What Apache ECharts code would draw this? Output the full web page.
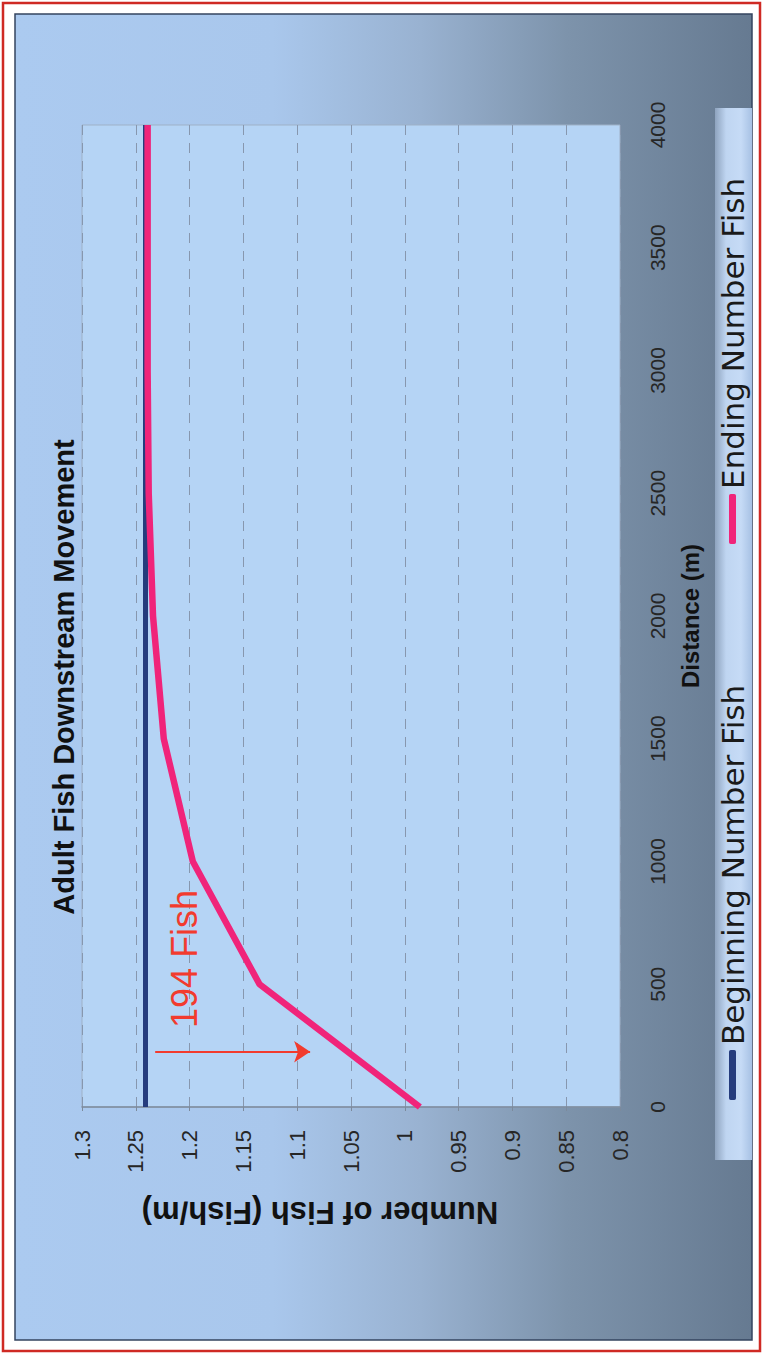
<!DOCTYPE html>
<html>
<head>
<meta charset="utf-8">
<title>Adult Fish Downstream Movement</title>
<script src="https://cdn.jsdelivr.net/npm/echarts@6/dist/echarts.min.js"></script>
<style>
  html, body { margin: 0; padding: 0; width: 764px; height: 1354px; overflow: hidden; background: #ffffff; }
  /* The chart is laid out landscape and turned a quarter turn counter-clockwise onto the portrait page. */
  #chart {
    position: absolute; left: 0; top: 0;
    width: 1354px; height: 764px;
    transform-origin: 0 0;
    transform: translate(0, 1354px) rotate(-90deg);
  }
</style>
</head>
<body>
<div id="chart"></div>
<script>
// Distance downstream (m) and fish density (fish per metre)
const distance = [0, 500, 1000, 1500, 2000, 2500, 3000, 3500, 4000];
const beginningFish = [1.241, 1.241, 1.241, 1.241, 1.241, 1.241, 1.241, 1.241, 1.241];
const endingFish = [0.986, 1.135, 1.197, 1.224, 1.234, 1.238, 1.239, 1.239, 1.239];

const seriesNames = ['Beginning Number Fish', 'Ending Number Fish'];
const yTickLabels = ['0.8', '0.85', '0.9', '0.95', '1', '1.05', '1.1', '1.15', '1.2', '1.25', '1.3'];
const xTickLabels = ['0', '500', '1000', '1500', '2000', '2500', '3000', '3500', '4000'];

// Annotation: arrow showing the fish lost, and its caption
const arrowDistance = 225;
const arrowFromTo = [1.232, 1.088];
const noteText = '194 Fish';
const notePos = [320, 1.205];

const FONT = '"Liberation Sans", Arial, Helvetica, sans-serif';
const LEGEND_FONT = '"DejaVu Sans", "Liberation Sans", Arial, sans-serif';

const chart = echarts.init(document.getElementById('chart'), null, { renderer: 'svg' });

const pairs = (xs, ys) => xs.map((x, i) => [x, ys[i]]);

chart.setOption({
  animation: false,
  backgroundColor: 'transparent',
  textStyle: { fontFamily: FONT },
  graphic: [
    // outer red frame
    { type: 'rect', z: -10, silent: true,
      shape: { x: 3, y: 3, width: 1348, height: 757 },
      style: { fill: '#ffffff', stroke: '#cf2a24', lineWidth: 2.5 } },
    // slide panel with blue-to-slate shading
    { type: 'rect', z: -9, silent: true,
      shape: { x: 14, y: 15, width: 1326, height: 737 },
      style: {
        fill: new echarts.graphic.LinearGradient(0, 0, 0, 1, [
          { offset: 0, color: '#abcaf0' },
          { offset: 0.35, color: '#a9c7ec' },
          { offset: 0.55, color: '#99b2d1' },
          { offset: 0.75, color: '#7d93ab' },
          { offset: 1, color: '#667a91' }
        ]),
        stroke: '#34445f', lineWidth: 1.5
      } },
    // legend strip
    { type: 'rect', z: -8, silent: true,
      shape: { x: 194, y: 715, width: 1052, height: 37 },
      style: {
        fill: new echarts.graphic.LinearGradient(0, 0, 0, 1, [
          { offset: 0, color: '#8ea3be' },
          { offset: 0.3, color: '#bfd5f1' },
          { offset: 0.7, color: '#c6dbf6' },
          { offset: 1, color: '#a7c1e4' }
        ])
      } }
  ],
  title: {
    text: 'Adult Fish Downstream Movement',
    left: 'center',
    top: 44,
    padding: [5, 5, 5, 19],
    textStyle: { fontFamily: FONT, fontSize: 29, fontWeight: 'bold', color: '#111111' }
  },
  legend: {
    data: seriesNames,
    left: 254,
    top: 717,
    padding: 0,
    itemWidth: 50,
    itemHeight: 7,
    itemGap: 141,
    icon: 'roundRect',
    textStyle: { fontFamily: LEGEND_FONT, fontSize: 31, color: '#1a1a1a' }
  },
  grid: {
    left: 247, right: 125, top: 82, bottom: 144,
    show: true,
    backgroundColor: '#b5d4f5',
    borderColor: '#9fb1c7',
    borderWidth: 1
  },
  xAxis: {
    type: 'value',
    min: 0, max: 4000, interval: 500,
    name: 'Distance (m)',
    nameLocation: 'middle',
    nameGap: 58,
    nameTextStyle: { fontFamily: FONT, fontSize: 24, fontWeight: 'bold', color: '#111111', padding: [0, 0, 0, 0] },
    axisLine: { show: false },
    axisTick: { show: false },
    splitLine: { show: false },
    axisLabel: {
      margin: 27,
      fontFamily: FONT, fontSize: 21, color: '#262626',
      formatter: v => xTickLabels[Math.round(v / 500)]
    }
  },
  yAxis: {
    type: 'value',
    min: 0.8, max: 1.3, interval: 0.05,
    name: 'Number of Fish (Fish/m)',
    nameLocation: 'middle',
    nameRotate: 90,
    nameGap: 90,
    nameTextStyle: { fontFamily: FONT, fontSize: 31, fontWeight: 'bold', color: '#111111', padding: [0, 0, 0, 62] },
    axisLine: { show: true, lineStyle: { color: '#7c8a9c', width: 1.5 } },
    axisTick: { show: true, length: 4, lineStyle: { color: '#7c8a9c' } },
    splitLine: { show: true, lineStyle: { color: '#8797ae', width: 1, type: [10, 8] } },
    axisLabel: {
      margin: 23,
      fontFamily: FONT, fontSize: 22, color: '#262626',
      formatter: v => yTickLabels[Math.round((v - 0.8) / 0.05)]
    }
  },
  series: [
    {
      name: seriesNames[0],
      type: 'line',
      data: pairs(distance, beginningFish),
      showSymbol: false,
      color: '#253c7d',
      lineStyle: { color: '#253c7d', width: 5 },
      z: 2
    },
    {
      name: seriesNames[1],
      type: 'line',
      data: pairs(distance, endingFish),
      showSymbol: false,
      color: '#f0247a',
      lineStyle: { color: '#f0247a', width: 6.5 },
      z: 3,
      markLine: {
        silent: true,
        symbol: ['none', 'arrow'],
        symbolSize: 16,
        lineStyle: { color: '#f23b2e', width: 2, type: 'solid' },
        label: { show: false },
        data: [[
          { coord: [arrowDistance, arrowFromTo[0]] },
          { coord: [arrowDistance, arrowFromTo[1]] }
        ]]
      },
      markPoint: {
        silent: true,
        symbol: 'circle',
        symbolSize: 1,
        itemStyle: { color: 'transparent' },
        label: {
          show: true,
          position: 'right',
          distance: 0,
          formatter: noteText,
          fontFamily: FONT,
          fontSize: 36,
          color: '#f23b2e'
        },
        data: [{ coord: notePos }]
      }
    }
  ]
});
</script>
</body>
</html>
